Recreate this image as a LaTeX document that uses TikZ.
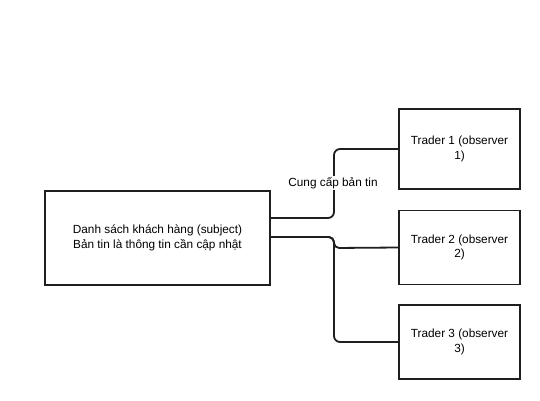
\documentclass[tikz,border=0pt]{standalone}
\usepackage{fontspec}
\setmainfont{Liberation Sans}
\begin{document}
\begin{tikzpicture}[x=1pt,y=-1pt,
  box/.style={draw=black!88,line width=1.6pt,fill=white,inner sep=0pt,align=center,font=\fontsize{11.8}{14.5}\selectfont},
  conn/.style={draw=black!88,line width=1.8pt,rounded corners=6pt},
  lbl/.style={fill=white,inner sep=1pt,font=\fontsize{11.8}{14.5}\selectfont}]
\useasboundingbox (0,0) rectangle (540,400);
\node[box,minimum width=225pt,minimum height=94pt] (subj) at (157.5,238) {Danh sách khách hàng (subject)\\Bản tin là thông tin cần cập nhật};
\node[box,minimum width=121pt,minimum height=80pt] (t1) at (459.5,149) {Trader 1 (observer\\1)};
\node[box,minimum width=121pt,minimum height=74pt] (t2) at (459.5,247.5) {Trader 2 (observer\\2)};
\node[box,minimum width=121pt,minimum height=74pt] (t3) at (459.5,342) {Trader 3 (observer\\3)};
\coordinate (s1) at ([yshift=20pt]subj.east);
\coordinate (s2) at ([yshift=1pt]subj.east);
\draw[conn] (s1) -| (334,180) |- (t1.west);
\draw[conn,rounded corners=5pt] (s2) -- (334,237) -- (334,248) -- (t2.west);
\draw[conn] (s2) -| (334,300) |- (t3.west);
\node[lbl] (lab) at (333,183) {Cung cấp bản tin};
\end{tikzpicture}
\end{document}
